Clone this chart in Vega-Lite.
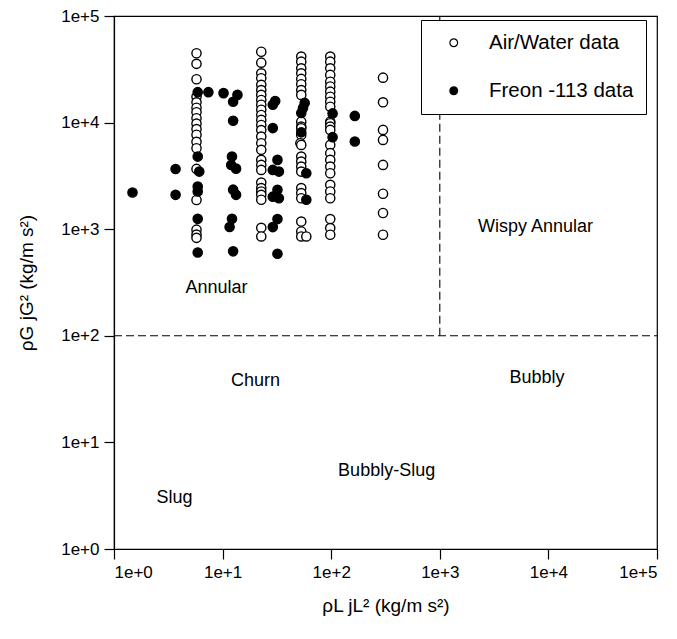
{
  "$schema": "https://vega.github.io/schema/vega-lite/v6.json",
  "width": 543,
  "height": 533,
  "autosize": {"type": "none"},
  "padding": {"left": 114, "top": 16, "right": 20, "bottom": 90},
  "background": "white",
  "config": {
    "view": {"stroke": "black", "strokeWidth": 1.2},
    "font": "Liberation Sans",
    "axis": {"domainColor": "black", "tickColor": "black", "labelColor": "black", "titleColor": "black", "labelFont": "Liberation Sans", "titleFont": "Liberation Sans", "grid": false}
  },
  "datasets": {
    "pts": [
      {"series": "Air/Water data", "x": 5.75, "y": 44700},
      {"series": "Air/Water data", "x": 5.75, "y": 35600},
      {"series": "Air/Water data", "x": 5.75, "y": 25500},
      {"series": "Air/Water data", "x": 5.75, "y": 17500},
      {"series": "Air/Water data", "x": 5.75, "y": 15500},
      {"series": "Air/Water data", "x": 5.75, "y": 13800},
      {"series": "Air/Water data", "x": 5.75, "y": 12500},
      {"series": "Air/Water data", "x": 5.75, "y": 11000},
      {"series": "Air/Water data", "x": 5.75, "y": 9800},
      {"series": "Air/Water data", "x": 5.75, "y": 8700},
      {"series": "Air/Water data", "x": 5.75, "y": 7700},
      {"series": "Air/Water data", "x": 5.75, "y": 6600},
      {"series": "Air/Water data", "x": 5.75, "y": 5750},
      {"series": "Air/Water data", "x": 5.75, "y": 3680},
      {"series": "Air/Water data", "x": 5.75, "y": 1880},
      {"series": "Air/Water data", "x": 5.75, "y": 990},
      {"series": "Air/Water data", "x": 5.75, "y": 890},
      {"series": "Air/Water data", "x": 5.75, "y": 830},
      {"series": "Air/Water data", "x": 22.7, "y": 46200},
      {"series": "Air/Water data", "x": 22.7, "y": 36500},
      {"series": "Air/Water data", "x": 22.7, "y": 29000},
      {"series": "Air/Water data", "x": 22.7, "y": 26100},
      {"series": "Air/Water data", "x": 22.7, "y": 22600},
      {"series": "Air/Water data", "x": 22.7, "y": 20200},
      {"series": "Air/Water data", "x": 22.7, "y": 18200},
      {"series": "Air/Water data", "x": 22.7, "y": 16300},
      {"series": "Air/Water data", "x": 22.7, "y": 14700},
      {"series": "Air/Water data", "x": 22.7, "y": 13200},
      {"series": "Air/Water data", "x": 22.7, "y": 11800},
      {"series": "Air/Water data", "x": 22.7, "y": 10600},
      {"series": "Air/Water data", "x": 22.7, "y": 9500},
      {"series": "Air/Water data", "x": 22.7, "y": 8500},
      {"series": "Air/Water data", "x": 22.7, "y": 7400},
      {"series": "Air/Water data", "x": 22.7, "y": 6400},
      {"series": "Air/Water data", "x": 22.7, "y": 5550},
      {"series": "Air/Water data", "x": 22.7, "y": 4470},
      {"series": "Air/Water data", "x": 22.7, "y": 4010},
      {"series": "Air/Water data", "x": 22.7, "y": 3600},
      {"series": "Air/Water data", "x": 22.7, "y": 2740},
      {"series": "Air/Water data", "x": 22.7, "y": 2430},
      {"series": "Air/Water data", "x": 22.7, "y": 2260},
      {"series": "Air/Water data", "x": 22.7, "y": 2100},
      {"series": "Air/Water data", "x": 22.7, "y": 1890},
      {"series": "Air/Water data", "x": 22.7, "y": 1030},
      {"series": "Air/Water data", "x": 22.7, "y": 855},
      {"series": "Air/Water data", "x": 53, "y": 41600},
      {"series": "Air/Water data", "x": 53, "y": 37300},
      {"series": "Air/Water data", "x": 53, "y": 32300},
      {"series": "Air/Water data", "x": 53, "y": 29000},
      {"series": "Air/Water data", "x": 53, "y": 25700},
      {"series": "Air/Water data", "x": 53, "y": 22900},
      {"series": "Air/Water data", "x": 53, "y": 20200},
      {"series": "Air/Water data", "x": 53, "y": 18200},
      {"series": "Air/Water data", "x": 53, "y": 10200},
      {"series": "Air/Water data", "x": 53, "y": 9170},
      {"series": "Air/Water data", "x": 53, "y": 8850},
      {"series": "Air/Water data", "x": 53, "y": 7670},
      {"series": "Air/Water data", "x": 52, "y": 6410},
      {"series": "Air/Water data", "x": 53, "y": 6180},
      {"series": "Air/Water data", "x": 53, "y": 4800},
      {"series": "Air/Water data", "x": 53, "y": 4310},
      {"series": "Air/Water data", "x": 53, "y": 3870},
      {"series": "Air/Water data", "x": 53, "y": 3470},
      {"series": "Air/Water data", "x": 53, "y": 2430},
      {"series": "Air/Water data", "x": 53, "y": 2180},
      {"series": "Air/Water data", "x": 53, "y": 1950},
      {"series": "Air/Water data", "x": 53, "y": 1180},
      {"series": "Air/Water data", "x": 53, "y": 951},
      {"series": "Air/Water data", "x": 53, "y": 855},
      {"series": "Air/Water data", "x": 59, "y": 855},
      {"series": "Air/Water data", "x": 98, "y": 41600},
      {"series": "Air/Water data", "x": 98, "y": 37300},
      {"series": "Air/Water data", "x": 98, "y": 32300},
      {"series": "Air/Water data", "x": 98, "y": 28000},
      {"series": "Air/Water data", "x": 98, "y": 24200},
      {"series": "Air/Water data", "x": 98, "y": 21800},
      {"series": "Air/Water data", "x": 98, "y": 19500},
      {"series": "Air/Water data", "x": 98, "y": 17500},
      {"series": "Air/Water data", "x": 98, "y": 15700},
      {"series": "Air/Water data", "x": 98, "y": 14100},
      {"series": "Air/Water data", "x": 98, "y": 10200},
      {"series": "Air/Water data", "x": 98, "y": 9870},
      {"series": "Air/Water data", "x": 98, "y": 9170},
      {"series": "Air/Water data", "x": 98, "y": 8540},
      {"series": "Air/Water data", "x": 98, "y": 6180},
      {"series": "Air/Water data", "x": 98, "y": 5170},
      {"series": "Air/Water data", "x": 98, "y": 4470},
      {"series": "Air/Water data", "x": 98, "y": 3870},
      {"series": "Air/Water data", "x": 98, "y": 3350},
      {"series": "Air/Water data", "x": 98, "y": 2610},
      {"series": "Air/Water data", "x": 98, "y": 2260},
      {"series": "Air/Water data", "x": 98, "y": 1950},
      {"series": "Air/Water data", "x": 98, "y": 1244},
      {"series": "Air/Water data", "x": 98, "y": 1024},
      {"series": "Air/Water data", "x": 98, "y": 887},
      {"series": "Air/Water data", "x": 300, "y": 26400},
      {"series": "Air/Water data", "x": 300, "y": 15500},
      {"series": "Air/Water data", "x": 300, "y": 8540},
      {"series": "Air/Water data", "x": 300, "y": 6880},
      {"series": "Air/Water data", "x": 300, "y": 4010},
      {"series": "Air/Water data", "x": 300, "y": 2150},
      {"series": "Air/Water data", "x": 300, "y": 1420},
      {"series": "Air/Water data", "x": 300, "y": 887},
      {"series": "Freon -113 data", "x": 1.48, "y": 2210},
      {"series": "Freon -113 data", "x": 3.69, "y": 3670},
      {"series": "Freon -113 data", "x": 3.69, "y": 2100},
      {"series": "Freon -113 data", "x": 5.9, "y": 19300},
      {"series": "Freon -113 data", "x": 5.9, "y": 4800},
      {"series": "Freon -113 data", "x": 6.1, "y": 3470},
      {"series": "Freon -113 data", "x": 5.9, "y": 2510},
      {"series": "Freon -113 data", "x": 5.9, "y": 2260},
      {"series": "Freon -113 data", "x": 5.9, "y": 1250},
      {"series": "Freon -113 data", "x": 5.9, "y": 605},
      {"series": "Freon -113 data", "x": 7.4, "y": 19300},
      {"series": "Freon -113 data", "x": 10.2, "y": 18900},
      {"series": "Freon -113 data", "x": 13.7, "y": 18200},
      {"series": "Freon -113 data", "x": 12.5, "y": 15700},
      {"series": "Freon -113 data", "x": 12.5, "y": 10400},
      {"series": "Freon -113 data", "x": 12.2, "y": 4800},
      {"series": "Freon -113 data", "x": 12.0, "y": 4000},
      {"series": "Freon -113 data", "x": 13.3, "y": 3700},
      {"series": "Freon -113 data", "x": 12.5, "y": 2350},
      {"series": "Freon -113 data", "x": 13.3, "y": 2100},
      {"series": "Freon -113 data", "x": 12.2, "y": 1250},
      {"series": "Freon -113 data", "x": 11.6, "y": 1050},
      {"series": "Freon -113 data", "x": 12.5, "y": 620},
      {"series": "Freon -113 data", "x": 30.5, "y": 15960},
      {"series": "Freon -113 data", "x": 29, "y": 14700},
      {"series": "Freon -113 data", "x": 29, "y": 8880},
      {"series": "Freon -113 data", "x": 32, "y": 4470},
      {"series": "Freon -113 data", "x": 29, "y": 3600},
      {"series": "Freon -113 data", "x": 33, "y": 3470},
      {"series": "Freon -113 data", "x": 32, "y": 2340},
      {"series": "Freon -113 data", "x": 29, "y": 2020},
      {"series": "Freon -113 data", "x": 33, "y": 1950},
      {"series": "Freon -113 data", "x": 32, "y": 1244},
      {"series": "Freon -113 data", "x": 29, "y": 1047},
      {"series": "Freon -113 data", "x": 32, "y": 588},
      {"series": "Freon -113 data", "x": 57, "y": 15300},
      {"series": "Freon -113 data", "x": 55, "y": 13700},
      {"series": "Freon -113 data", "x": 53, "y": 12300},
      {"series": "Freon -113 data", "x": 53, "y": 8100},
      {"series": "Freon -113 data", "x": 59, "y": 3350},
      {"series": "Freon -113 data", "x": 59, "y": 1890},
      {"series": "Freon -113 data", "x": 103, "y": 12200},
      {"series": "Freon -113 data", "x": 103, "y": 7300},
      {"series": "Freon -113 data", "x": 165, "y": 11550},
      {"series": "Freon -113 data", "x": 165, "y": 6640}
    ],
    "regions": [
      {"label": "Annular", "x": 8.8, "y": 282},
      {"label": "Wispy Annular", "x": 7600, "y": 1050},
      {"label": "Churn", "x": 20.1, "y": 38},
      {"label": "Bubbly", "x": 7840, "y": 40},
      {"label": "Bubbly-Slug", "x": 324, "y": 5.4},
      {"label": "Slug", "x": 3.6, "y": 3.0}
    ],
    "hline": [{"x": 1, "x2": 100000, "y": 100}],
    "vline": [{"x": 1000, "y": 100, "y2": 100000}]
  },
  "layer": [
    {
      "data": {"name": "hline"},
      "mark": {"type": "rule", "strokeDash": [8, 4], "strokeWidth": 1.1, "color": "black"},
      "encoding": {
        "x": {"field": "x", "type": "quantitative", "scale": {"type": "log", "domain": [1, 100000]}},
        "x2": {"field": "x2"},
        "y": {"field": "y", "type": "quantitative", "scale": {"type": "log", "domain": [1, 100000]}}
      }
    },
    {
      "data": {"name": "vline"},
      "mark": {"type": "rule", "strokeDash": [8, 4], "strokeWidth": 1.1, "color": "black"},
      "encoding": {
        "x": {"field": "x", "type": "quantitative"},
        "y": {"field": "y", "type": "quantitative"},
        "y2": {"field": "y2"}
      }
    },
    {
      "data": {"name": "regions"},
      "mark": {"type": "text", "fontSize": 18, "font": "Liberation Sans", "color": "black", "align": "center", "baseline": "middle"},
      "encoding": {
        "x": {"field": "x", "type": "quantitative"},
        "y": {"field": "y", "type": "quantitative"},
        "text": {"field": "label"}
      }
    },
    {
      "data": {"name": "pts"},
      "mark": {"type": "point", "shape": "circle", "size": 85, "strokeWidth": 1.4, "opacity": 1},
      "encoding": {
        "x": {
          "field": "x", "type": "quantitative",
          "scale": {"type": "log", "domain": [1, 100000]},
          "axis": {"values": [1, 10, 100, 1000, 10000, 100000], "format": ".0e", "labelFontSize": 17, "tickSize": 10, "labelPadding": 5, "title": "ρL jL² (kg/m s²)", "titleFontSize": 19, "titleFontWeight": "normal", "titlePadding": 16, "domainWidth": 1.2, "tickWidth": 1.2}
        },
        "y": {
          "field": "y", "type": "quantitative",
          "scale": {"type": "log", "domain": [1, 100000]},
          "axis": {"values": [1, 10, 100, 1000, 10000, 100000], "format": ".0e", "labelFontSize": 17, "tickSize": 10, "labelPadding": 5, "title": "ρG jG² (kg/m s²)", "titleFontSize": 19, "titleFontWeight": "normal", "titlePadding": 24, "domainWidth": 1.2, "tickWidth": 1.2}
        },
        "fill": {
          "field": "series", "type": "nominal",
          "scale": {"domain": ["Air/Water data", "Freon -113 data"], "range": ["white", "black"]},
          "legend": {
            "title": null, "orient": "none", "legendX": 307, "legendY": 4,
            "strokeColor": "black", "fillColor": "white", "padding": 12.5,
            "labelFontSize": 20.5, "labelFont": "Liberation Sans", "labelColor": "black",
            "symbolSize": 60, "symbolStrokeColor": "black", "symbolStrokeWidth": 1.2,
            "rowPadding": 27, "labelOffset": 25, "symbolOffset": 10,
            "labelExpr": "datum.label + ' '",
            "zindex": 1
          }
        },
        "stroke": {"value": "black"}
      }
    }
  ]
}
